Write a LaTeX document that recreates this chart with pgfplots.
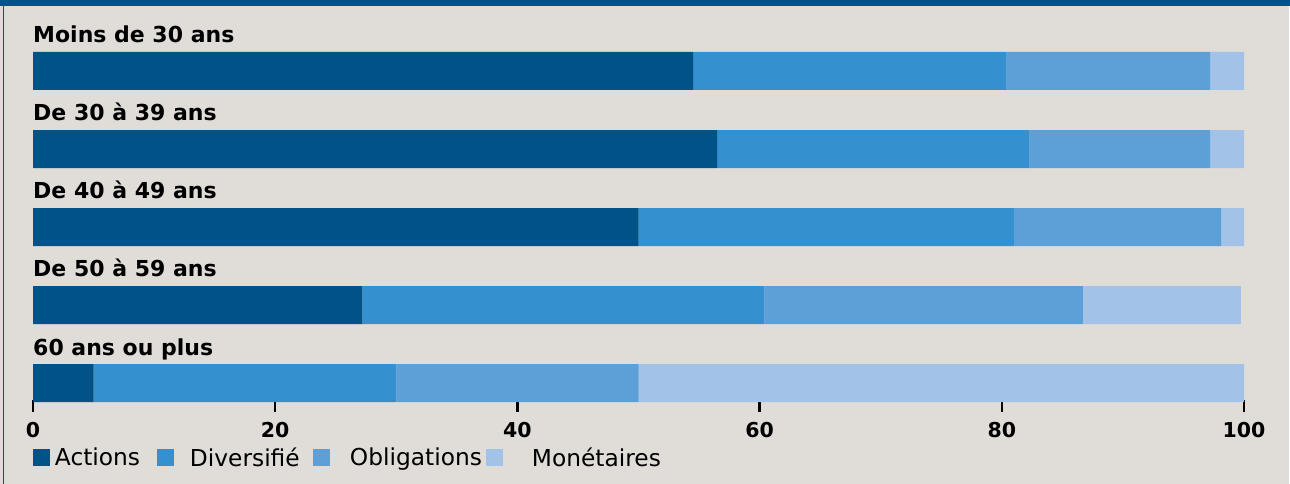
\documentclass[border=0pt]{standalone}
\usepackage{pgfplots}
\pgfplotsset{compat=1.18}
\usepackage{fontspec}
\setmainfont{DejaVu Sans}
\definecolor{cA}{RGB}{0,82,135}
\definecolor{cB}{RGB}{53,144,208}
\definecolor{cC}{RGB}{93,160,216}
\definecolor{cD}{RGB}{163,194,232}
\definecolor{bgc}{RGB}{224,220,216}
\tikzset{rowlab/.style={anchor=base west, inner sep=0pt, font=\bfseries\fontsize{22}{26}\selectfont}}
\begin{document}
\begin{tikzpicture}
\fill[white] (-33pt,-84pt) rectangle (1257pt,400pt);
\fill[bgc] (-33pt,-84pt) rectangle (1256pt,400pt);
\fill[cA] (-33pt,394pt) rectangle (1257pt,400pt);
\fill[cA] (-30pt,-84pt) rectangle (-29pt,394pt);
\begin{axis}[
  at={(0pt,0pt)}, anchor=south west,
  scale only axis, width=1211pt, height=348pt,
  xmin=0, xmax=100, ymin=-0.2179, ymax=4.2436,
  xbar stacked, bar width=38pt,
  clip=false,
  axis line style={draw=none},
  ytick=\empty,
  xtick={0,20,40,60,80,100},
  xtick pos=left, tick align=outside,
  major tick length=12pt,
  tick style={line width=2.4pt, black},
  /pgf/number format/assume math mode=true,
  xticklabel style={font=\bfseries\fontsize{20.5}{24}\selectfont, inner sep=0pt, yshift=-10pt},
  legend columns=4,
  legend style={at={(0,-0.1652)}, anchor=west, draw=none, fill=none,
    inner sep=0pt, outer sep=0pt,
    nodes={inner sep=0pt, font=\fontsize{23.3}{27}\selectfont},
    /tikz/every odd column/.append style={column sep=5pt},
    /tikz/every even column/.append style={column sep=0pt}},
  legend image code/.code={\fill[#1] (0pt,-8.5pt) rectangle (17pt,8.5pt);},
]
\addplot[fill=cA, draw=none] coordinates {(54.5,4) (56.5,3) (50.0,2) (27.2,1) (5.0,0)};
\addplot[fill=cB, draw=none] coordinates {(25.9,4) (25.8,3) (31.0,2) (33.2,1) (25.0,0)};
\addplot[fill=cC, draw=none] coordinates {(16.8,4) (14.9,3) (17.1,2) (26.3,1) (20.0,0)};
\addplot[fill=cD, draw=none] coordinates {(2.8,4) (2.8,3) (1.9,2) (13.05,1) (50.0,0)};
\legend{{\makebox[102pt][l]{Actions}},{\makebox[134pt][l]{\hspace*{11pt}Diversifié}},{\makebox[151pt][l]{\hspace*{15pt}Obligations}},{\makebox[170pt][l]{\hspace*{24pt}Monétaires}}}
\node[rowlab] at (axis cs:0,4.359) {Moins de 30 ans};
\node[rowlab] at (axis cs:0,3.359) {De 30 à 39 ans};
\node[rowlab] at (axis cs:0,2.359) {De 40 à 49 ans};
\node[rowlab] at (axis cs:0,1.359) {De 50 à 59 ans};
\node[rowlab] at (axis cs:0,0.359) {60 ans ou plus};
\end{axis}
\pgfresetboundingbox
\useasboundingbox (-33pt,-84pt) rectangle (1257pt,400pt);
\end{tikzpicture}
\end{document}
